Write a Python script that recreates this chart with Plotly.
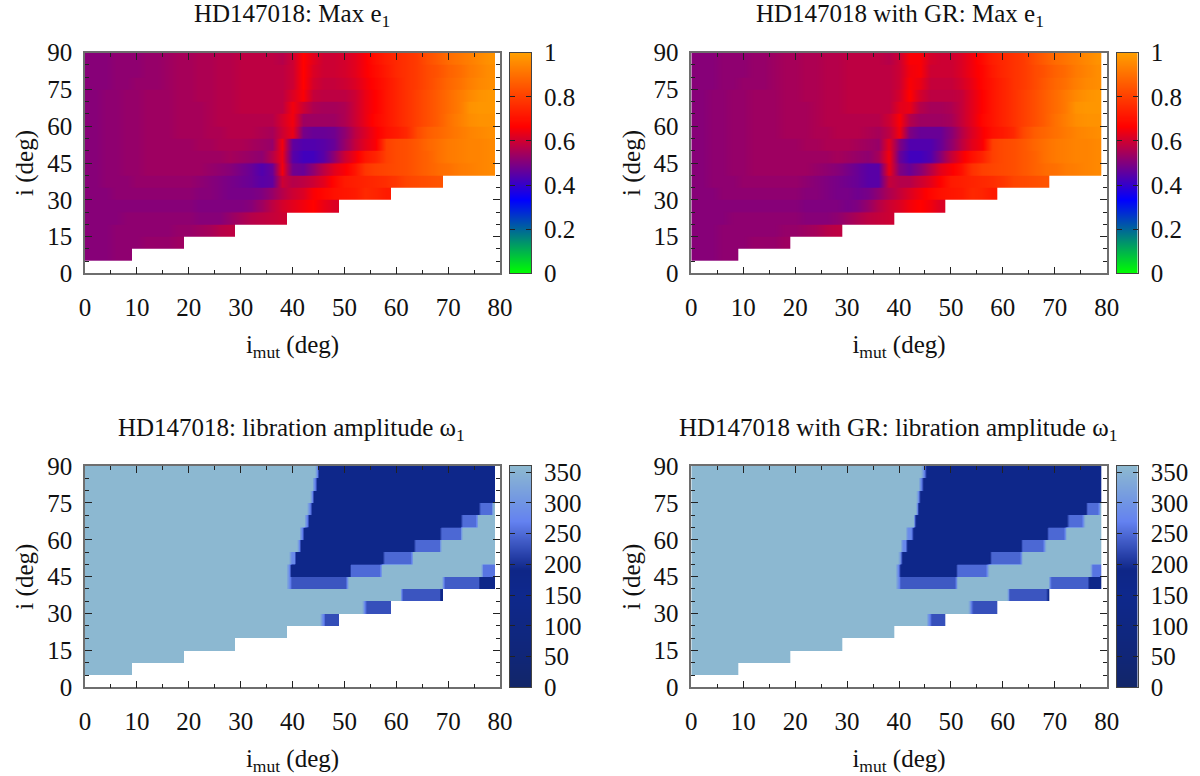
import numpy as np
import plotly.graph_objects as go

# ---------- tick labels and titles ----------
x_ticks = [0, 10, 20, 30, 40, 50, 60, 70, 80]
y_ticks = [0, 15, 30, 45, 60, 75, 90]
e_ticks = [0, 0.2, 0.4, 0.6, 0.8, 1]
e_labels = ["0", "0.2", "0.4", "0.6", "0.8", "1"]
w_ticks = [0, 50, 100, 150, 200, 250, 300, 350]
titles = ["HD147018: Max e<sub>1</sub>", "HD147018 with GR: Max e<sub>1</sub>",
          "HD147018: libration amplitude ω<sub>1</sub>", "HD147018 with GR: libration amplitude ω<sub>1</sub>"]

# ---------- grid: 5 degree bands in i, 2 degree samples in i_mut ----------
i_bands = [5, 10, 15, 20, 25, 30, 35, 40, 45, 50, 55, 60, 65, 70, 75, 80, 85, 90]
imut_edges = [0, 1, 3, 5, 7, 9, 11, 13, 15, 17, 19, 21, 23, 25, 27, 29, 31, 33, 35, 37, 39,
              41, 43, 45, 47, 49, 51, 53, 55, 57, 59, 61, 63, 65, 67, 69, 71, 73, 75, 77, 79]

# Max e1 in hundredths, rows from i=5-10 upward, one value per 2 degrees of i_mut
max_e_plain = [
 [51,51,51,52,52],
 [51,51,51,52,52,52,53,53,53,54],
 [51,51,51,52,52,52,52,52,52,53,53,54,55,57,58],
 [51,51,51,51,52,52,52,52,52,52,52,51,51,51,53,55,57,58,59,60],
 [51,51,51,51,51,51,51,51,51,51,51,50,50,50,50,50,51,54,58,61,63,65,67,64,62],
 [51,51,51,52,52,52,52,52,52,52,52,51,51,50,49,49,49,50,53,57,60,62,66,68,70,71,72,75,74,72],
 [51,51,52,52,52,53,53,53,53,53,53,52,51,50,49,48,47,45,46,60,57,58,60,63,68,72,73,74,75,76,78,81,82,83,84],
 [51,51,52,52,53,53,54,54,54,54,54,54,53,52,51,49,47,44,47,65,48,47,52,58,63,66,71,78,80,81,82,83,85,87,89,90,92,93,94,95],
 [51,51,52,52,53,53,54,54,54,54,54,54,54,54,55,54,53,52,57,64,45,42,42,45,52,60,65,71,74,80,82,83,85,87,90,92,93,94,94,95],
 [51,51,52,52,53,53,54,54,54,54,54,55,55,56,56,56,55,54,53,65,46,44,44,45,47,53,59,63,66,80,82,83,85,88,90,92,93,94,94,95],
 [51,51,52,52,53,53,54,54,54,55,55,55,56,56,57,57,57,56,55,60,64,49,47,47,48,52,58,62,66,70,72,75,82,86,88,90,92,94,95,96],
 [51,51,52,52,53,53,54,54,54,55,55,55,56,57,57,57,57,57,57,61,65,54,54,54,54,56,60,64,68,71,74,77,80,83,86,90,93,96,97,97],
 [51,51,52,52,53,53,54,54,54,55,55,55,56,57,57,58,58,58,58,58,65,60,56,55,55,56,60,64,67,71,74,77,80,83,86,89,92,97,98,98],
 [51,51,52,52,53,53,54,54,54,55,55,56,56,57,57,58,58,58,58,58,62,66,59,58,58,58,60,64,67,71,74,77,80,83,86,89,92,95,97,98],
 [51,51,51,52,52,53,53,53,54,55,55,56,56,57,57,58,58,58,58,58,60,67,61,59,59,60,62,65,68,71,74,77,79,82,85,88,90,93,95,96],
 [51,51,51,52,52,52,53,53,54,55,55,56,56,57,57,58,58,58,58,58,60,67,62,60,60,61,63,66,69,72,75,77,79,82,84,87,89,92,94,96],
 [51,51,51,52,52,52,53,53,54,55,55,56,56,57,57,58,58,58,58,57,60,67,63,60,60,61,63,66,70,73,75,77,79,83,86,89,91,93,95,97],
]
max_e_gr = [
 [51,51,51,52,52],
 [51,51,51,52,52,52,53,53,53,54],
 [51,51,51,52,52,52,52,52,52,53,53,54,55,57,58],
 [51,51,51,51,52,52,52,52,52,52,52,51,51,51,52,54,56,58,59,60],
 [51,51,51,51,51,51,51,51,51,51,51,50,50,50,50,49,50,53,57,60,62,65,67,65,62],
 [51,51,51,52,52,52,52,52,52,52,52,51,51,50,49,49,48,49,52,56,59,62,65,68,70,71,72,75,74,72],
 [51,51,52,52,52,53,53,53,53,53,53,52,51,50,49,48,47,45,45,59,57,57,60,63,67,72,73,74,75,76,78,81,82,83,84],
 [51,51,52,52,53,53,54,54,54,54,54,54,53,52,51,49,47,45,45,64,50,47,51,57,63,66,70,77,80,81,82,83,85,87,89,90,92,93,94,95],
 [51,51,52,52,53,53,54,54,54,54,54,54,54,54,55,54,53,52,55,65,47,42,42,44,51,59,65,70,74,80,82,83,85,87,90,92,93,94,94,95],
 [51,51,52,52,53,53,54,54,54,54,54,55,55,56,56,56,55,54,53,63,50,44,44,44,47,52,58,63,66,80,82,83,85,88,90,92,93,94,94,95],
 [51,51,52,52,53,53,54,54,54,55,55,55,56,56,57,57,57,56,55,58,65,50,47,47,47,51,57,62,66,70,72,75,82,86,88,90,92,94,95,96],
 [51,51,52,52,53,53,54,54,54,55,55,55,56,57,57,57,57,57,57,60,66,57,54,54,54,55,59,63,68,71,74,77,80,83,86,90,93,96,97,97],
 [51,51,52,52,53,53,54,54,54,55,55,55,56,57,57,58,58,58,58,58,63,64,57,55,55,56,59,63,67,71,74,77,80,83,86,89,92,97,98,98],
 [51,51,52,52,53,53,54,54,54,55,55,56,56,57,57,58,58,58,58,58,61,67,61,58,58,58,59,63,67,71,74,77,80,83,86,89,92,95,97,98],
 [51,51,51,52,52,53,53,53,54,55,55,56,56,57,57,58,58,58,58,58,60,66,64,59,59,59,61,64,68,71,74,77,79,82,85,88,90,93,95,96],
 [51,51,51,52,52,52,53,53,54,55,55,56,56,57,57,58,58,58,58,58,60,65,66,60,60,60,62,65,68,72,75,77,79,82,84,87,89,92,94,96],
 [51,51,51,52,52,52,53,53,54,55,55,56,56,57,57,58,58,58,58,57,60,66,66,61,60,60,62,65,69,73,75,77,79,83,86,89,91,93,95,97],
]

# Libration amplitude of omega_1 (degrees), rows from i=5-10 upward: (i_mut where the run ends, value)
libration_plain = [
 [(9,358)],
 [(19,358)],
 [(29,358)],
 [(39,358)],
 [(45.5,358),(46,285),(49,225)],
 [(53.7,358),(54.2,290),(59,228)],
 [(61.2,358),(68.6,232),(69,170)],
 [(39.2,358),(39.6,300),(50.5,232),(69,358),(76,238),(79,172)],
 [(39.2,358),(39.6,300),(51,170),(57,250),(76.4,358),(79,258)],
 [(39.6,358),(40.5,285),(57.5,170),(63,248),(79,358)],
 [(40.8,358),(41.7,280),(63.4,170),(68.3,248),(79,358)],
 [(41.5,358),(42.2,285),(68.4,170),(72.3,248),(79,358)],
 [(42.4,358),(43,285),(72.4,170),(75.6,252),(79,358)],
 [(43.1,358),(43.5,280),(75.9,170),(78.5,252),(79,358)],
 [(43.6,358),(44,280),(79,170)],
 [(44,358),(44.4,280),(79,170)],
 [(44.4,358),(44.8,280),(79,170)],
]
libration_gr = [
 [(9,358)],
 [(19,358)],
 [(29,358)],
 [(39,358)],
 [(45.5,358),(46,285),(49,228)],
 [(53.6,358),(54,290),(59,228)],
 [(61,358),(68.6,232),(69,170)],
 [(39.7,358),(40,300),(50.8,235),(68.9,358),(76.5,240),(79,172)],
 [(39.7,358),(40,290),(51,170),(57.2,250),(76.8,358),(79,258)],
 [(40,358),(40.7,285),(57.5,170),(63.3,246),(79,358)],
 [(40.7,358),(41.5,280),(63.5,170),(68.1,248),(79,358)],
 [(41.7,358),(42.5,285),(68.5,170),(72.2,248),(79,358)],
 [(42.8,358),(43.2,285),(72.4,170),(75.7,252),(79,358)],
 [(43.3,358),(43.7,280),(76,170),(78.6,252),(79,358)],
 [(43.7,358),(44.2,280),(79,170)],
 [(44,358),(44.6,280),(79,170)],
 [(44.6,358),(45,280),(79,170)],
]

# ---------- colours ----------
e_scale = [[0, "rgb(0,255,0)"], [1/3, "rgb(0,0,255)"], [2/3, "rgb(255,0,0)"], [1, "rgb(255,160,0)"]]
w_scale = [[0, "rgb(18,38,105)"], [50/360, "rgb(16,38,120)"], [150/360, "rgb(14,40,140)"],
           [190/360, "rgb(14,38,135)"], [215/360, "rgb(40,65,170)"], [270/360, "rgb(100,130,240)"],
           [300/360, "rgb(112,148,228)"], [1, "rgb(141,185,208)"]]

FONT = "Liberation Serif"
FS = 25
W, H = 1200, 776

# each band is drawn as three rows so that the image is smooth along i_mut but keeps sharp steps along i
EPS = 0.08
y_edges = []
for lo, hi in zip(i_bands[:-1], i_bands[1:]):
    y_edges += [lo, lo + EPS, hi - EPS]
y_edges.append(i_bands[-1])


def triple(rows):
    out = []
    for r in rows:
        out += [r, r, r]
    return out


def pad(rows, n):
    return triple([[v / 100 for v in r] + [None] * (n - len(r)) for r in rows])


run_edges = np.arange(0, 79.25, 0.5)
run_centres = (run_edges[:-1] + run_edges[1:]) / 2


def expand(rows):
    out = []
    for runs in rows:
        line = []
        for c in run_centres:
            val = None
            for end, v in runs:
                if c < end:
                    val = v
                    break
            line.append(val)
        out.append(line)
    return triple(out)


panels = [
    dict(x0=85, x1=500, cx0=510, cx1=531, y0=52.7, y1=273.3, kind="e", rows=max_e_plain, tx=292),
    dict(x0=691.3, x1=1106.7, cx0=1116.7, cx1=1137.7, y0=52.7, y1=273.3, kind="e", rows=max_e_gr, tx=900),
    dict(x0=85, x1=500, cx0=510, cx1=531, y0=466, y1=687.3, kind="w", rows=libration_plain, tx=291),
    dict(x0=691.3, x1=1106.7, cx0=1116.7, cx1=1137.7, y0=466, y1=687.3, kind="w", rows=libration_gr, tx=898),
]

fig = go.Figure()
axes = {}
font = dict(family=FONT, size=FS, color="#111111")
BORDER = dict(showline=True, linecolor="#6e6e6e", linewidth=1.6, mirror="ticks", showgrid=False,
              zeroline=False, ticks="inside", tickcolor="#222222", tickwidth=1, tickfont=font, automargin=False)
annotations = []
for k, p in enumerate(panels):
    n = 2 * k + 1
    xa, ya = f"x{n}", f"y{n}"
    xc, yc = f"x{n + 1}", f"y{n + 1}"
    dom_x = [p["x0"] / W, p["x1"] / W]
    dom_y = [1 - p["y1"] / H, 1 - p["y0"] / H]
    if p["kind"] == "e":
        z, xs, scale, zmax, levels = pad(p["rows"], 40), imut_edges, e_scale, 1, np.linspace(0, 1, 221)
    else:
        z, xs, scale, zmax, levels = expand(p["rows"]), run_edges, w_scale, 360, np.linspace(0, 360, 221)
    fig.add_trace(go.Heatmap(x=xs, y=y_edges, z=z, colorscale=scale, zmin=0, zmax=zmax, zsmooth="best",
                             showscale=False, xaxis=xa, yaxis=ya, hoverongaps=False))
    fig.add_trace(go.Heatmap(x=[0, 1], y=levels, z=[[v] for v in levels], colorscale=scale, zmin=0, zmax=zmax,
                             showscale=False, xaxis=xc, yaxis=yc, hoverinfo="skip"))
    axes[f"xaxis{n}"] = dict(domain=dom_x, anchor=ya, range=[0, 80], tickvals=x_ticks, ticklen=7,
                             ticklabelstandoff=11,
                             minor=dict(dtick=5, ticks="inside", ticklen=4, tickcolor="#222222", tickwidth=1),
                             title=dict(text="i<sub>mut</sub> (deg)", font=font, standoff=15), **BORDER)
    axes[f"yaxis{n}"] = dict(domain=dom_y, anchor=xa, range=[0, 90], tickvals=y_ticks, ticklen=7,
                             ticklabelstandoff=6,
                             minor=dict(dtick=5, ticks="inside", ticklen=4, tickcolor="#222222", tickwidth=1),
                             title=dict(text="i (deg)", font=font, standoff=6), **BORDER)
    axes[f"xaxis{n + 1}"] = dict(domain=[p["cx0"] / W, p["cx1"] / W], anchor=yc, range=[0, 1], showticklabels=False,
                                 ticks="", showline=True, linecolor="#444444", linewidth=1, mirror=True,
                                 showgrid=False, zeroline=False, automargin=False)
    cb = dict(domain=dom_y, anchor=xc, side="right", ticklen=5, ticklabelstandoff=7, **BORDER)
    cb["linecolor"] = "#444444"
    cb["linewidth"] = 1
    if p["kind"] == "e":
        cb.update(range=[0, 1], tickvals=e_ticks, ticktext=e_labels)
    else:
        cb.update(range=[0, 360], tickvals=w_ticks)
    axes[f"yaxis{n + 1}"] = cb
    annotations.append(dict(text=titles[k], xref="paper", yref="paper", showarrow=False, font=font,
                            x=p["tx"] / W, y=1 - (p["y0"] - 37) / H,
                            xanchor="center", yanchor="middle"))

fig.update_layout(width=W, height=H, margin=dict(l=0, r=0, t=0, b=0, autoexpand=False), paper_bgcolor="white",
                  plot_bgcolor="white", showlegend=False, annotations=annotations, **axes)
fig.write_html("out.html", config={"displayModeBar": False},
               post_script="document.body.style.margin='0';document.documentElement.style.overflow='hidden';")
